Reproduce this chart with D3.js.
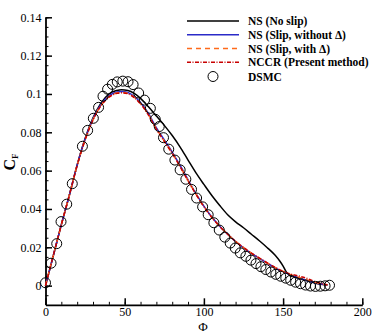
<!DOCTYPE html>
<html><head><meta charset="utf-8">
<script src="https://cdn.jsdelivr.net/npm/d3@7"></script>
<style>body{margin:0;background:#fff}svg{display:block}</style>
</head><body>
<svg id="c" width="374" height="332"></svg>
<script>
const xTicks = [0, 50, 100, 150, 200];
const yTicks = [0, 0.02, 0.04, 0.06, 0.08, 0.1, 0.12, 0.14];
const yTickLabels = ["0", "0.02", "0.04", "0.06", "0.08", "0.1", "0.12", "0.14"];
const seriesNames = ["NS (No slip)", "NS (Slip, without \u0394)", "NS (Slip, with \u0394)", "NCCR (Present method)", "DSMC"];

const nsNoSlip = [[0,0],[5,0.0158],[10,0.0318],[15,0.047],[20,0.063],[25,0.0768],[30,0.0875],[35,0.0952],[40,0.1],[45,0.1018],[48,0.1022],[52,0.1018],[56,0.1003],[60,0.0977],[65,0.0933],[70,0.0885],[75,0.0836],[80,0.0783],[85,0.0723],[90,0.0655],[95,0.0588],[100,0.0528],[105,0.047],[110,0.0418],[115,0.037],[120,0.0333],[125,0.0302],[130,0.0268],[135,0.0234],[140,0.0198],[145,0.0158],[148,0.0127],[150,0.0102],[152,0.0072],[154,0.0054],[157,0.0045],[160,0.0037],[165,0.0025],[170,0.0014],[175,0.0006],[178,0.0003]];
const nsSlip = [[0,0],[5,0.016],[10,0.0318],[15,0.047],[20,0.063],[25,0.0765],[30,0.087],[35,0.0945],[40,0.099],[45,0.101],[48,0.1013],[52,0.1008],[56,0.0988],[60,0.0955],[65,0.0898],[69,0.0838],[75,0.076],[80,0.0697],[85,0.0627],[90,0.0552],[95,0.048],[100,0.0415],[105,0.0358],[110,0.031],[115,0.0268],[120,0.023],[125,0.0197],[130,0.0168],[135,0.0142],[140,0.0117],[145,0.0093],[150,0.0073],[155,0.0055],[160,0.004],[165,0.0027],[170,0.0015],[175,0.0007],[178,0.0003]];
const nsSlipDelta = [[0,0],[5,0.016],[10,0.0318],[15,0.047],[20,0.0628],[25,0.0762],[30,0.0866],[35,0.094],[40,0.0985],[45,0.1005],[48,0.1008],[52,0.1003],[56,0.0983],[60,0.095],[65,0.0893],[69,0.0833],[75,0.0755],[80,0.0692],[85,0.0622],[90,0.0548],[95,0.0477],[100,0.0413],[105,0.0357],[110,0.031],[115,0.0268],[120,0.0231],[125,0.0198],[130,0.0169],[135,0.0143],[140,0.0118],[145,0.0094],[150,0.0074],[155,0.0057],[160,0.0043],[165,0.003],[170,0.0017],[175,0.0008],[178,0.0004]];
const nccr = [[0,0],[5,0.016],[10,0.0318],[15,0.047],[20,0.0627],[25,0.076],[30,0.0864],[35,0.0938],[40,0.0983],[45,0.1003],[48,0.1006],[52,0.1001],[56,0.0981],[60,0.0948],[65,0.089],[69,0.083],[75,0.0752],[80,0.069],[85,0.062],[90,0.0546],[95,0.0476],[100,0.0412],[105,0.0356],[110,0.0309],[115,0.0268],[120,0.0231],[125,0.0199],[130,0.017],[135,0.0144],[140,0.0119],[145,0.0095],[150,0.0075],[155,0.006],[160,0.005],[165,0.0038],[170,0.0022],[175,0.001],[178,0.0004]];
const dsmc = [[0,0.0015],[3.5,0.0117],[7.1,0.0219],[9.8,0.0334],[13.4,0.0425],[16.9,0.0532],[23.3,0.0727],[26.6,0.081],[30.2,0.0873],[33.5,0.093],[36.3,0.0988],[39.2,0.1025],[42.2,0.105],[45.3,0.1063],[48.8,0.1067],[52.1,0.1064],[55.3,0.1049],[58.8,0.1005],[62.5,0.0968],[66.2,0.0925],[69.3,0.0868],[71.8,0.083],[74.5,0.0772],[77.8,0.0712],[81.7,0.0655],[85,0.0604],[88.6,0.0555],[92.2,0.0502],[95.4,0.0457],[99.2,0.0411],[102.7,0.037],[106.3,0.0328],[109.7,0.029],[113.2,0.0253],[116.6,0.0222],[119.8,0.0196],[123,0.0171],[126.5,0.0153],[129.7,0.0133],[132.9,0.0115],[136,0.0099],[139.1,0.0084],[142.3,0.0071],[145.4,0.0059],[148.5,0.0049],[151.7,0.0039],[154.8,0.0028],[157.9,0.0018],[161,0.001],[164.2,0.0003],[167.3,-0.0002],[170.4,-0.0004],[173.5,-0.0003],[176.5,-0.0001],[179.3,0.0002]];

const svg = d3.select("#c");
const x = d3.scaleLinear().domain([0, 200]).range([45.5, 362.3]);
const y = d3.scaleLinear().domain([-0.01, 0.14]).range([304.8, 17.3]);
const serif = "'Liberation Serif','Times New Roman',serif";

// axes
const gx = svg.append("g").attr("transform", `translate(0,${y(-0.01)})`);
gx.call(d3.axisBottom(x).tickValues(d3.range(0, 201, 10)).tickSize(-3).tickFormat(""));
gx.selectAll(".tick line").attr("stroke-width", 1);
gx.select(".domain").remove();
const gx2 = svg.append("g").attr("transform", `translate(0,${y(-0.01)})`);
gx2.call(d3.axisBottom(x).tickValues(xTicks).tickSize(-6.5).tickPadding(3).tickSizeOuter(0));
gx2.selectAll(".tick line").attr("stroke-width", 1.5);
gx2.selectAll("text").style("font-family", serif).style("font-size", "12px").attr("fill", "#000");
gx2.select(".domain").attr("stroke-width", 1.8);

const gy = svg.append("g").attr("transform", `translate(${x(0)},0)`);
gy.call(d3.axisLeft(y).tickValues(d3.range(-0.005, 0.1401, 0.005)).tickSize(-3).tickFormat(""));
gy.selectAll(".tick line").attr("stroke-width", 1);
gy.select(".domain").remove();
const gy2 = svg.append("g").attr("transform", `translate(${x(0)},0)`);
gy2.call(d3.axisLeft(y).tickValues(yTicks).tickSize(-6.5).tickPadding(4).tickSizeOuter(0)
  .tickFormat((d, i) => yTickLabels[i]));
gy2.selectAll(".tick line").attr("stroke-width", 1.5);
gy2.selectAll("text").style("font-family", serif).style("font-size", "12px").attr("fill", "#000");
gy2.select(".domain").attr("stroke-width", 1.8);

// axis titles
svg.append("text").attr("x", 203).attr("y", 330.5).attr("text-anchor", "middle")
  .style("font-family", serif).style("font-size", "13px").text("\u03A6");
const yl = svg.append("text").attr("transform", "translate(15,162) rotate(-90)")
  .attr("text-anchor", "middle").style("font-family", serif).style("font-weight", "bold").style("font-size", "16px");
yl.append("tspan").text("C");
yl.append("tspan").style("font-size", "9px").attr("dy", 3).text("F");

// lines
const line = d3.line().x(d => x(d[0])).y(d => y(d[1])).curve(d3.curveMonotoneX);
const styles = [
  {data: nsNoSlip, color: "#000000", dash: null, w: 1.5},
  {data: nsSlip, color: "#2b2bc8", dash: null, w: 1.5},
  {data: nsSlipDelta, color: "#ff6a1a", dash: "5,4", w: 1.5},
  {data: nccr, color: "#c80000", dash: "4,1.5,1,1.5", w: 1.5}
];
styles.forEach(s => {
  svg.append("path").attr("d", line(s.data)).attr("fill", "none")
    .attr("stroke", s.color).attr("stroke-width", s.w)
    .attr("stroke-dasharray", s.dash);
});
svg.append("g").selectAll("circle").data(dsmc).join("circle")
  .attr("cx", d => x(d[0])).attr("cy", d => y(d[1])).attr("r", 5)
  .attr("fill", "none").attr("stroke", "#000").attr("stroke-width", 1);

// legend
const lg = svg.append("g");
const rowsY = [21, 34.7, 48.5, 62.2, 76.5];
seriesNames.forEach((n, i) => {
  if (i < 4) {
    const s = styles[i];
    lg.append("line").attr("x1", 187).attr("x2", 239).attr("y1", rowsY[i]).attr("y2", rowsY[i])
      .attr("stroke", s.color).attr("stroke-width", s.w).attr("stroke-dasharray", s.dash);
  } else {
    lg.append("circle").attr("cx", 213).attr("cy", rowsY[i]).attr("r", 5)
      .attr("fill", "none").attr("stroke", "#000").attr("stroke-width", 1);
  }
  lg.append("text").attr("x", 248).attr("y", rowsY[i] + 4).style("font-family", serif)
    .style("font-weight", "bold").style("font-size", "11.5px").text(n);
});
</script>
</body></html>
